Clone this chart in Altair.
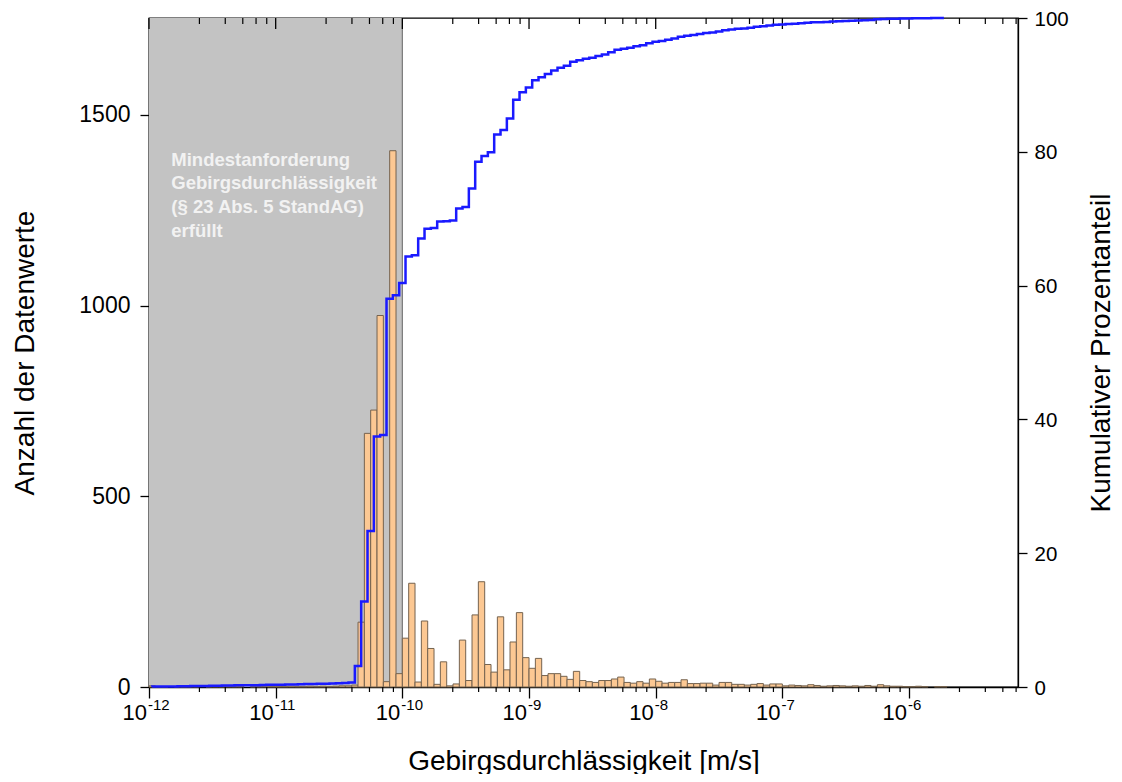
import altair as alt
import pandas as pd

# ---------------- data ----------------
LOG_START = -12.0      # first bin edge: 10^-12 m/s
BIN_WIDTH = 0.05       # bin width in decades (20 bins per decade)

# number of data values per bin, bin i covers 10^(-12+0.05 i) .. 10^(-12+0.05 (i+1))
counts = [
    3, 1, 1, 0, 1, 1, 2, 1, 0, 1,            # -12.00 .. -11.55
    1, 1, 2, 1, 1, 0, 1, 1, 2, 1,            # -11.50 .. -11.05
    1, 1, 2, 1, 1, 2, 1, 2, 1, 2,            # -11.00 .. -10.55
    3, 3, 5, 170, 665, 726, 974, 14, 1406, 35,   # -10.50 .. -10.05
    128, 272, 13, 173, 101, 7, 66, 3, 8, 123,    # -10.00 .. -9.55
    17, 189, 276, 59, 39, 184, 45, 118, 195, 77, # -9.50 .. -9.05
    49, 75, 30, 35, 35, 28, 20, 41, 17, 14,      # -9.00 .. -8.55
    12, 17, 17, 21, 26, 12, 10, 14, 10, 21,      # -8.50 .. -8.05
    15, 10, 12, 12, 19, 9, 9, 10, 10, 5,         # -8.00 .. -7.55
    12, 12, 7, 7, 5, 7, 9, 5, 8, 8,              # -7.50 .. -7.05
    3, 5, 4, 3, 6, 4, 2, 3, 4, 3,                # -7.00 .. -6.55
    2, 3, 2, 4, 2, 6, 3, 2, 2, 1,                # -6.50 .. -6.05
    1, 2, 1, 0, 1, 1,                            # -6.00 .. -5.75
]

shade_from = [1e-12]
shade_to = [1e-10]
annotation_lines = [
    "Mindestanforderung",
    "Gebirgsdurchlässigkeit",
    "(§ 23 Abs. 5 StandAG)",
    "erfüllt",
]
annotation_x = [1.5e-12]
annotation_y = [1406]

x_tick_values = [1e-12, 1e-11, 1e-10, 1e-9, 1e-8, 1e-7, 1e-6]
x_tick_base = ["10"] * 7
x_tick_exponents = ["-12", "-11", "-10", "-9", "-8", "-7", "-6"]
x_minor_factors = [2.5, 4.0, 5.5, 7.0, 8.5]
y_left_ticks = [0, 500, 1000, 1500]
y_right_ticks = [0, 20, 40, 60, 80, 100]

X_MIN = 1e-12
X_MAX = 10 ** -5.14
Y_MAX = 1754

# ---------------- tables ----------------
n = len(counts)
hist = pd.DataFrame({
    "i": list(range(n)),
    "count": counts,
    "lo": [10 ** (LOG_START + BIN_WIDTH * k) for k in range(n)],
    "hi": [10 ** (LOG_START + BIN_WIDTH * (k + 1)) for k in range(n)],
    "mid": [10 ** (LOG_START + BIN_WIDTH * (k + 0.5)) for k in range(n)],
})
shade = pd.DataFrame({"from": shade_from, "to": shade_to})
annot = pd.DataFrame({"x": annotation_x, "y": annotation_y})
minor_vals = [v * f for v in x_tick_values for f in x_minor_factors if v * f <= X_MAX]
minor = pd.DataFrame({"v": minor_vals})
major = pd.DataFrame({"v": x_tick_values, "base": x_tick_base, "exp": x_tick_exponents})

W, H = 869, 669
FONT = "Liberation Sans"

xscale = alt.Scale(type="log", domain=[X_MIN, X_MAX], nice=False)
xaxis = alt.Axis(
    values=x_tick_values, labels=False, title="Gebirgsdurchlässigkeit [m/s]",
    tickSize=11, titleFontSize=28, titleY=74, titleBaseline="middle",
)
yl_scale = alt.Scale(domain=[0, Y_MAX], nice=False)
yaxis_left = alt.Axis(
    values=y_left_ticks, format="d", title="Anzahl der Datenwerte", tickSize=9,
    labelPadding=10, labelFontSize=23, titleFontSize=28, titleAngle=-90, titleX=-124,
    titleY=H / 2, titleBaseline="middle", titleAlign="center", labelFlush=False,
)
yaxis_right = alt.Axis(
    values=y_right_ticks, format="d", title="Kumulativer Prozentanteil", orient="right",
    tickSize=9, labelPadding=7, labelFontSize=20.5, labelOffset=1, titleFontSize=28,
    titleAngle=-90, titleX=83, titleY=H / 2, titleBaseline="middle", titleAlign="center",
    labelFlush=False,
)

shade_layer = alt.Chart(shade).mark_rect(color="#c3c3c3").encode(
    x=alt.X("from:Q", scale=xscale, axis=xaxis),
    x2="to:Q",
    y=alt.value(0),
    y2=alt.value(H),
)
edge_layer = alt.Chart(shade).mark_rule(color="#7a7a7a", strokeWidth=1.2).encode(
    x=alt.X("to:Q", scale=xscale, axis=xaxis),
    y=alt.value(0),
    y2=alt.value(H),
)
bars = alt.Chart(hist).transform_filter("datum.count > 0").mark_rect(
    fill="#FCC893", stroke="#75634f", strokeWidth=1
).encode(
    x=alt.X("lo:Q", scale=xscale, axis=xaxis),
    x2="hi:Q",
    y=alt.Y("count:Q", scale=yl_scale, axis=yaxis_left),
    y2=alt.datum(0),
)
text_layer = alt.Chart(annot).mark_text(
    text=annotation_lines, align="left", baseline="top", lineHeight=23.6,
    fontSize=18.5, fontWeight="bold", color="#f2f2f2", font=FONT,
).encode(
    x=alt.X("x:Q", scale=xscale, axis=xaxis),
    y=alt.Y("y:Q", scale=yl_scale, axis=None),
)
minor_bottom = alt.Chart(minor).mark_rule(color="black", strokeWidth=1.2).encode(
    x=alt.X("v:Q", scale=xscale, axis=xaxis), y=alt.value(H), y2=alt.value(H + 5)
)
minor_top = alt.Chart(minor).mark_rule(color="black", strokeWidth=1.2).encode(
    x=alt.X("v:Q", scale=xscale, axis=xaxis), y=alt.value(0), y2=alt.value(6)
)
major_top = alt.Chart(major).mark_rule(color="black", strokeWidth=1.3).encode(
    x=alt.X("v:Q", scale=xscale, axis=xaxis), y=alt.value(0), y2=alt.value(11)
)
label_base = alt.Chart(major).mark_text(
    align="right", baseline="alphabetic", dx=-2, fontSize=22, font=FONT, color="black"
).encode(
    x=alt.X("v:Q", scale=xscale, axis=xaxis), y=alt.value(H + 33), text="base:N"
)
label_exp = alt.Chart(major).mark_text(
    align="left", baseline="alphabetic", dx=-1, fontSize=15, font=FONT, color="black"
).encode(
    x=alt.X("v:Q", scale=xscale, axis=xaxis), y=alt.value(H + 23), text="exp:N"
)
cum_line = alt.Chart(hist).transform_window(
    cum="sum(count)", frame=[None, 0], sort=[{"field": "i"}]
).transform_joinaggregate(total="sum(count)").transform_calculate(
    pct="100 * datum.cum / datum.total"
).mark_line(color="#1a1aff", strokeWidth=2.5, interpolate="step-before").encode(
    x=alt.X("mid:Q", scale=xscale, axis=xaxis),
    y=alt.Y("pct:Q", scale=alt.Scale(domain=[0, 100], nice=False), axis=yaxis_right),
)

chart = alt.layer(
    shade_layer, edge_layer, bars, text_layer, minor_bottom, minor_top, major_top,
    label_base, label_exp, cum_line
).resolve_scale(y="independent").properties(
    width=W, height=H,
    autosize=alt.AutoSizeParams(type="none"),
    padding={"left": 141, "top": 10, "right": 96, "bottom": 87},
    background="white",
).configure_view(stroke="black", strokeWidth=1.3, clip=False).configure_axis(
    labelFont=FONT, titleFont=FONT, labelColor="black", titleColor="black",
    domainColor="black", tickColor="black", grid=False, titleFontWeight="normal",
    domainWidth=1.3, tickWidth=1.3,
)

chart.save("out.html", embed_options={"renderer": "svg", "actions": False})
